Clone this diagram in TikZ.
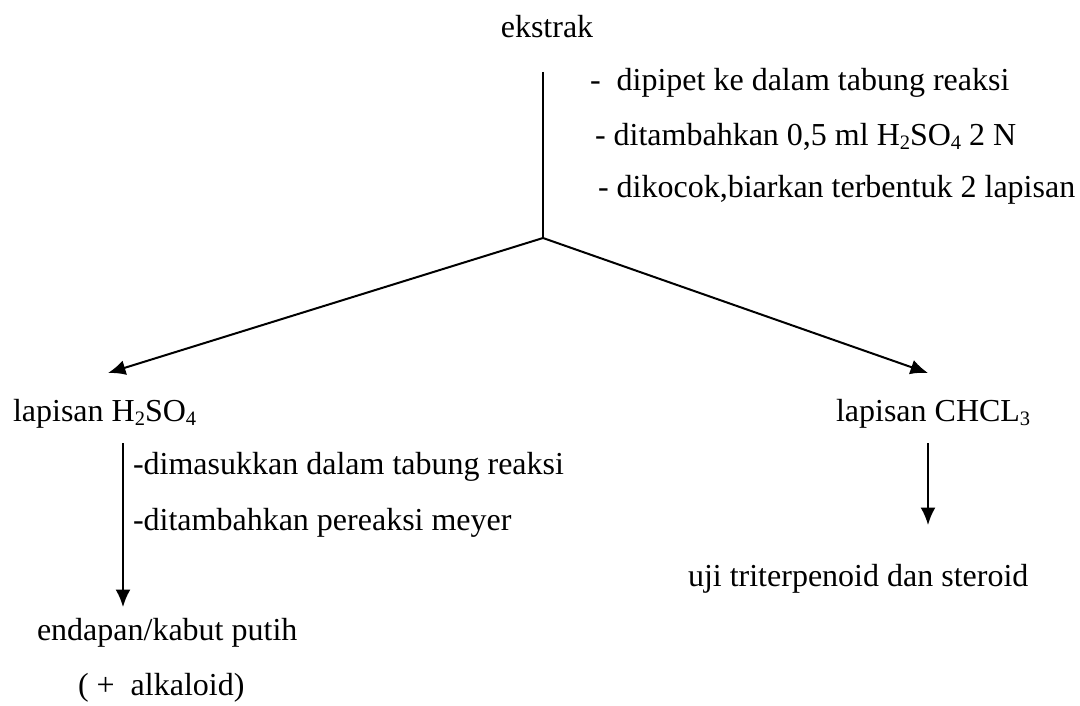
\documentclass[tikz,border=0pt]{standalone}
\usepackage{fontspec}
\setmainfont{Liberation Serif}
\usetikzlibrary{arrows.meta}
\newcommand{\sub}[1]{\raisebox{-0.25ex}{\fontsize{8.2}{9}\selectfont #1}}

\begin{document}
\begin{tikzpicture}[x=0.4pt, y=-0.4pt, >={Latex[length=7pt,width=6pt]}, line width=0.8pt, font=\fontsize{12.8}{15}\selectfont]
        \tikzset{
          txt/.style ={inner sep=0pt, anchor=west},
          ctr/.style ={inner sep=0pt}
        }
        \useasboundingbox (0,0) rectangle (1080,706);
        %% --- ekstrak ---
        \node[ctr] (ekstrak) at (547,27) {ekstrak};
        \coordinate (top)  at (543,72);
        \coordinate (apex) at (543,238);
        \draw (top)--(apex);
        \node[txt] (n1) at (589,83)  {-\ \ dipipet ke dalam tabung reaksi};
        \node[txt] (n2) at (594,137) {- ditambahkan 0,5 ml H\sub{2}SO\sub{4} 2 N};
        \node[txt] (n3) at (597,190) {- dikocok,biarkan terbentuk 2 lapisan};
        %% --- dua lapisan ---
        \node[txt] (asam)    at (12,414)  {lapisan H\sub{2}SO\sub{4}};
        \node[txt] (kloro)   at (835,414) {lapisan CHCL\sub{3}};
        \coordinate (ta) at (108,373);
        \coordinate (tk) at (928,373);
        \draw[->] (apex)--(ta);
        \draw[->] (apex)--(tk);
        %% --- lapisan H2SO4 ---
        \coordinate (a1) at (123,443);
        \coordinate (a2) at (123,607);
        \draw[->] (a1)--(a2);
        \node[txt] (m1) at (132,467) {-dimasukkan dalam tabung reaksi};
        \node[txt] (m2) at (132,523) {-ditambahkan pereaksi meyer};
        \node[txt] (endapan) at (36,633) {endapan/kabut putih};
        \node[txt] (alk)     at (77,688) {( +\ \ alkaloid)};
        %% --- lapisan CHCL3 ---
        \coordinate (k1) at (928,443);
        \coordinate (k2) at (928,525);
        \draw[->] (k1)--(k2);
        \node[txt] (uji) at (687,579) {uji triterpenoid dan steroid};
    \end{tikzpicture}
\end{document}
